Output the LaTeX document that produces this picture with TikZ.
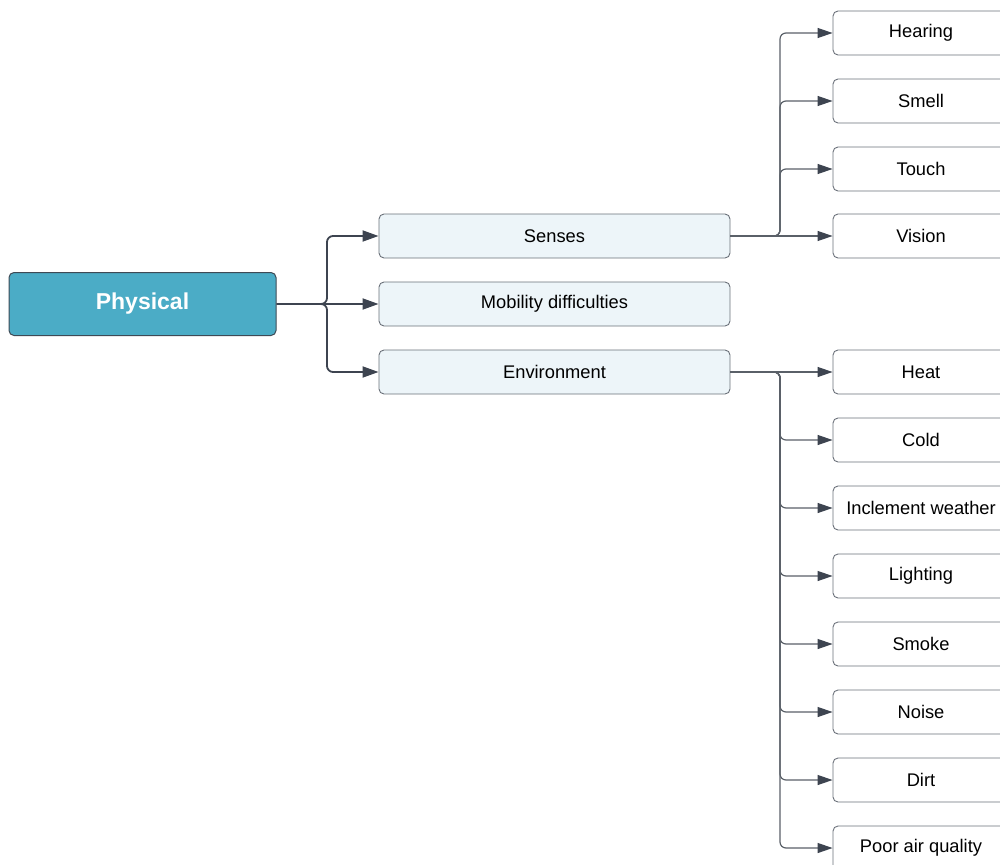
\documentclass[tikz,border=0pt]{standalone}
\usepackage{fontspec}
\setmainfont{Liberation Sans}
\usetikzlibrary{arrows.meta}
\definecolor{phfill}{HTML}{4BACC6}
\definecolor{phdraw}{HTML}{3E4A55}
\definecolor{midfill}{HTML}{EDF5F9}
\definecolor{boxdraw}{HTML}{6A7079}
\definecolor{linecol}{HTML}{3D4450}
\definecolor{leafline}{HTML}{5A6068}
\tikzset{
  phys/.style={draw=phdraw, line width=1pt, fill=phfill, rounded corners=5pt,
    minimum width=267pt, minimum height=63pt, inner sep=0pt,
    text=white, font=\fontsize{23}{27}\selectfont\bfseries},
  mid/.style={draw=boxdraw, line width=0.9pt, fill=midfill, rounded corners=5pt,
    minimum width=351pt, minimum height=44pt, inner sep=0pt,
    font=\fontsize{18.3}{22}\selectfont},
  leaf/.style={draw=boxdraw, line width=0.9pt, fill=white, rounded corners=5pt,
    minimum width=176pt, minimum height=44pt, inner sep=0pt,
    font=\fontsize{18.3}{22}\selectfont},
  trunk/.style={draw=linecol, line width=1.8pt, rounded corners=6pt,
    -{Triangle[length=16pt,width=11pt]}},
  branch/.style={draw=leafline, line width=1.2pt, rounded corners=6pt,
    -{Triangle[length=15pt,width=10pt,color=linecol]}},
}
\begin{document}
\begin{tikzpicture}[x=1pt,y=-1pt]
\useasboundingbox (0,0) rectangle (1000,864);
\clip (0,0) rectangle (1000,864);
\node[phys] (physical) at (142.5,304) {Physical};
\node[mid] (senses) at (554.5,236) {Senses};
\node[mid] (mobility) at (554.5,304) {Mobility difficulties};
\node[mid] (environment) at (554.5,372) {Environment};
\node[leaf] (hearing) at (921,33) {Hearing};
\node[leaf] (smell) at (921,101) {Smell};
\node[leaf] (touch) at (921,169) {Touch};
\node[leaf] (vision) at (921,236) {Vision};
\node[leaf] (heat) at (921,372) {Heat};
\node[leaf] (cold) at (921,440) {Cold};
\node[leaf] (inclement) at (921,508) {Inclement weather};
\node[leaf] (lighting) at (921,576) {Lighting};
\node[leaf] (smoke) at (921,644) {Smoke};
\node[leaf] (noise) at (921,712) {Noise};
\node[leaf] (dirt) at (921,780) {Dirt};
\node[leaf] (poorair) at (921,848) {Poor air quality};
\coordinate (j1) at (327,304);
\coordinate (j2) at (780,236);
\coordinate (j3) at (780,372);
\draw[trunk] (physical.east) -- (j1) |- (senses.west);
\draw[trunk] (physical.east) -- (mobility.west);
\draw[trunk] (physical.east) -- (j1) |- (environment.west);
\foreach \n in {hearing,smell,touch}
  \draw[branch] (senses.east) -- (j2) |- (\n.west);
\draw[branch] (senses.east) -- (vision.west);
\draw[branch] (environment.east) -- (heat.west);
\foreach \n in {cold,inclement,lighting,smoke,noise,dirt,poorair}
  \draw[branch] (environment.east) -- (j3) |- (\n.west);
\end{tikzpicture}
\end{document}
